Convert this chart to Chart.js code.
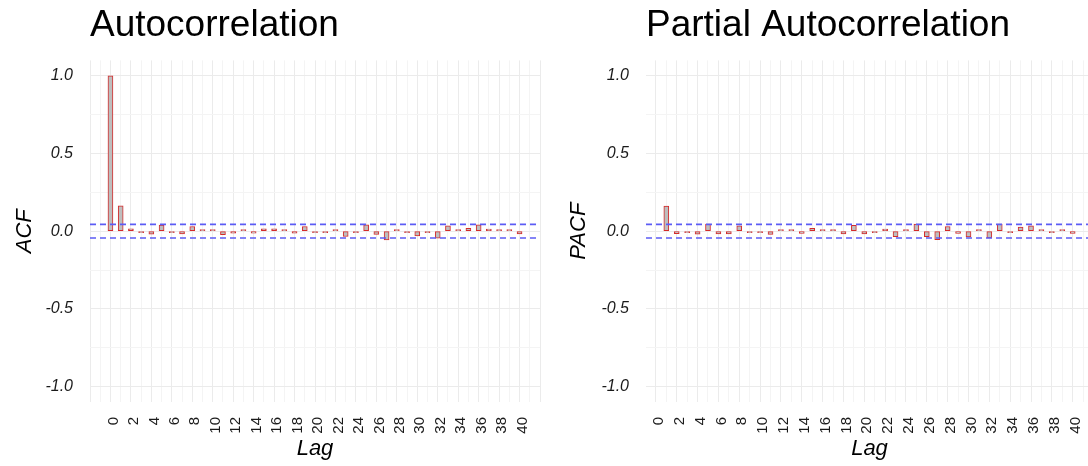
<!DOCTYPE html>
<html><head><meta charset="utf-8">
<script src="https://cdn.jsdelivr.net/npm/chart.js@4.4.1/dist/chart.umd.min.js"></script>
<style>
html,body{margin:0;padding:0;background:#fff;overflow:hidden;width:1088px;height:466px;}
#wrap{position:relative;width:1088px;height:466px;overflow:hidden;background:#fff;}
#c1{position:absolute;left:0;top:0;width:544px;height:466px;}
#c2{position:absolute;left:544px;top:0;width:556px;height:466px;}
</style></head><body>
<div id="wrap"><canvas id="c1" width="544" height="466"></canvas><canvas id="c2" width="556" height="466"></canvas></div>
<script>
// ---- data ----
const acfLags = [0,1,2,3,4,5,6,7,8,9,10,11,12,13,14,15,16,17,18,19,20,21,22,23,24,25,26,27,28,29,30,31,32,33,34,35,36,37,38,39,40];
const acfValues = [1.0,0.163,0.015,-0.003,-0.019,0.040,-0.001,-0.017,0.030,0.003,0.002,-0.023,-0.013,0.009,-0.012,0.015,0.015,0.004,-0.013,0.030,-0.002,-0.004,0.006,-0.034,-0.004,0.041,-0.021,-0.056,0.004,-0.006,-0.030,-0.002,-0.045,0.034,0.010,0.019,0.041,0.013,0.001,0.003,-0.017];
const pacfLags = [1,2,3,4,5,6,7,8,9,10,11,12,13,14,15,16,17,18,19,20,21,22,23,24,25,26,27,28,29,30,31,32,33,34,35,36,37,38,39,40];
const pacfValues = [0.162,-0.016,-0.003,-0.019,0.046,-0.017,-0.017,0.034,-0.002,-0.002,-0.021,0.001,0.010,-0.015,0.019,0.005,0.002,-0.017,0.038,-0.017,-0.002,0.013,-0.036,0.001,0.046,-0.035,-0.054,0.030,-0.015,-0.037,0.006,-0.043,0.046,-0.002,0.027,0.034,0.003,-0.009,0.005,-0.015];
const ciBound = 0.0438;
const xGridValues = [-2,-1,0,1,2,3,4,5,6,7,8,9,10,11,12,13,14,15,16,17,18,19,20,21,22,23,24,25,26,27,28,29,30,31,32,33,34,35,36,37,38,39,40,41,42];
const xLabelValues = [0,2,4,6,8,10,12,14,16,18,20,22,24,26,28,30,32,34,36,38,40];
const yGridValues = [-1,-0.75,-0.5,-0.25,0,0.25,0.5,0.75,1];
const yLabelValues = [-1,-0.5,0,0.5,1];

const FONT = "'Liberation Sans', Arial, Helvetica, sans-serif";
const MAJOR = '#EBEBEB', MINOR = '#F4F4F4';

function isIn(arr, v){ return arr.some(a => Math.abs(a - v) < 1e-9); }

function makeChart(id, titleText, yTitle, lags, values, cfg){
  const bars = lags.map((l,i)=>({x:l, y:values[i]}));
  return new Chart(document.getElementById(id), {
    data: {
      datasets: [
        { type:'line', data:[{x:cfg.xMin,y:ciBound},{x:cfg.xMax,y:ciBound}], borderColor:'#5C5CF5', borderWidth:1.6, borderDash:[6,4], pointRadius:0, fill:false, order:1 },
        { type:'line', data:[{x:cfg.xMin,y:-ciBound},{x:cfg.xMax,y:-ciBound}], borderColor:'#5C5CF5', borderWidth:1.6, borderDash:[6,4], pointRadius:0, fill:false, order:1 },
        { type:'bar', data:bars, backgroundColor:'#BEBEBE', borderColor:'#D42A2A', borderWidth:1, borderSkipped:false, barThickness:5, minBarLength:1.5, order:2 }
      ]
    },
    options: {
      responsive:false, animation:false, devicePixelRatio:1,
      layout:{ padding:{ left:0, right:cfg.padRight, top:0, bottom:0 } },
      plugins:{
        legend:{display:false}, tooltip:{enabled:false},
        title:{ display:true, text:titleText, align:'start', fullSize:false, color:'#000',
                font:{family:FONT, size:37, weight:'normal'}, padding:{top:4, bottom:12} }
      },
      scales:{
        x:{ type:'linear', min:cfg.xMin, max:cfg.xMax, offset:false,
            afterBuildTicks: s => { s.ticks = xGridValues.filter(v => v >= cfg.xMin-1e-9 && v <= cfg.xMax+1e-9).map(v => ({value:v})); },
            afterFit: s => { s.height = 64; s.paddingLeft = 0; s.paddingRight = 0; },
            ticks:{ autoSkip:false, minRotation:90, maxRotation:90, padding:15, labelOffset:3, color:'#1a1a1a',
                    font:{family:FONT, size:15}, callback: v => isIn(xLabelValues, v) ? String(v) : '' },
            grid:{ offset:false, drawTicks:false, lineWidth:1, color: c => (c.tick && Math.abs(c.tick.value % 2) < 1e-9) ? MAJOR : MINOR },
            border:{display:false},
            title:{ display:true, text:'Lag', color:'#000', font:{family:FONT, size:22, style:'italic'}, padding:{top:0, bottom:4} }
        },
        y:{ type:'linear', min:-1.1, max:1.1,
            afterBuildTicks: s => { s.ticks = yGridValues.map(v => ({value:v})); },
            afterFit: s => { s.width = cfg.axisLeft; s.paddingTop = 0; s.paddingBottom = 0; },
            ticks:{ padding:17, color:'#1a1a1a', font:{family:FONT, size:16, style:'italic'},
                    callback: v => isIn(yLabelValues, v) ? Number(v).toFixed(1) : '' },
            grid:{ drawTicks:false, lineWidth:1, color: c => (c.tick && isIn(yLabelValues, c.tick.value)) ? MAJOR : MINOR },
            border:{display:false},
            title:{ display:true, text:yTitle, color:'#000', font:{family:FONT, size:22, style:'italic'}, padding:{top:cfg.yTitlePad, bottom:0} }
        }
      }
    }
  });
}

makeChart('c1', 'Autocorrelation', 'ACF', acfLags, acfValues, { xMin:-2, xMax:42, axisLeft:90, padRight:4, yTitlePad:12 });
makeChart('c2', 'Partial Autocorrelation', 'PACF', pacfLags, pacfValues, { xMin:-0.95, xMax:41.95, axisLeft:102, padRight:7, yTitlePad:22 });
</script>
</body></html>
